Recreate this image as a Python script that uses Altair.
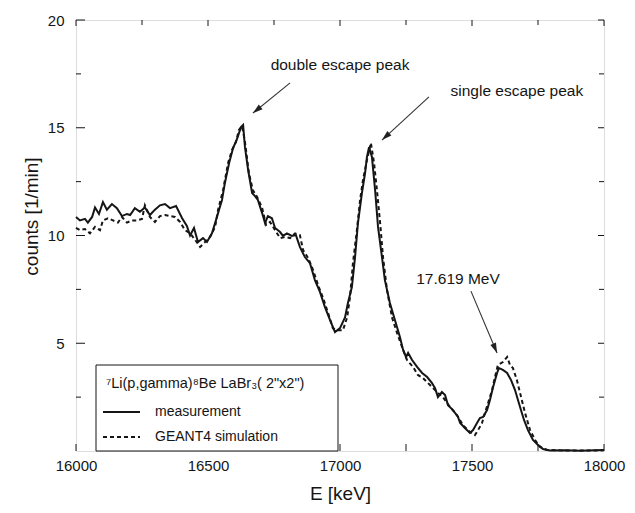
import altair as alt
import pandas as pd

# ---- data: (E [keV], counts [1/min]) ----
measurement = [
    (16000, 10.86), (16015, 10.70), (16034, 10.77), (16045, 10.60), (16061, 10.86),
    (16072, 11.30), (16087, 11.00), (16102, 11.55), (16117, 11.20), (16136, 11.46),
    (16155, 11.27), (16174, 10.90), (16193, 11.00), (16205, 10.95), (16223, 11.27),
    (16242, 11.10), (16261, 11.30), (16280, 10.95), (16299, 11.20), (16318, 11.40),
    (16337, 11.46), (16356, 11.27), (16379, 11.37), (16402, 10.80), (16420, 10.44),
    (16432, 10.00), (16447, 10.35), (16462, 9.70), (16481, 9.88), (16496, 9.70),
    (16515, 10.10), (16530, 10.70), (16542, 11.20), (16553, 11.65), (16564, 12.44),
    (16580, 13.36), (16595, 14.06), (16610, 14.48), (16625, 15.03), (16633, 15.13),
    (16640, 14.10), (16652, 13.04), (16667, 11.97), (16678, 11.83), (16689, 11.65),
    (16705, 11.04), (16716, 10.58), (16727, 10.90), (16742, 10.80), (16754, 10.35),
    (16773, 10.16), (16784, 9.98), (16799, 10.10), (16818, 9.98), (16833, 10.02),
    (16848, 9.47), (16867, 9.00), (16886, 8.72), (16905, 7.93), (16924, 7.38),
    (16943, 6.68), (16962, 6.08), (16981, 5.52), (17000, 5.70), (17019, 6.20),
    (17030, 6.87), (17045, 7.61), (17057, 9.00), (17068, 10.58), (17083, 11.97),
    (17095, 12.90), (17102, 13.64), (17110, 14.10), (17121, 13.64), (17133, 12.10),
    (17144, 10.40), (17159, 9.00), (17170, 7.93), (17189, 6.87), (17208, 6.08),
    (17227, 5.29), (17239, 4.69), (17250, 4.36), (17258, 4.55), (17273, 4.22),
    (17292, 3.90), (17311, 3.62), (17330, 3.43), (17348, 3.16), (17360, 2.92),
    (17371, 2.50), (17386, 2.74), (17398, 2.60), (17409, 2.13), (17428, 1.90),
    (17447, 1.58), (17455, 1.30), (17473, 1.07), (17492, 0.84), (17504, 0.97),
    (17519, 1.30), (17530, 1.53), (17542, 1.58), (17557, 1.90), (17568, 2.37),
    (17580, 2.97), (17595, 3.62), (17602, 3.85), (17617, 3.76), (17633, 3.62),
    (17648, 3.29), (17663, 2.83), (17682, 2.04), (17697, 1.44), (17712, 0.97),
    (17731, 0.51), (17750, 0.28), (17769, 0.09), (17795, 0.02), (17852, 0.03),
    (17909, 0.01), (17966, 0.04), (18000, 0.05),
]

simulation = [
    (16000, 10.35), (16015, 10.25), (16034, 10.30), (16053, 10.10), (16072, 10.40),
    (16091, 10.25), (16102, 10.70), (16121, 10.80), (16140, 10.70), (16159, 10.60),
    (16174, 10.86), (16193, 10.60), (16212, 10.70), (16231, 10.70), (16250, 10.77),
    (16261, 11.40), (16280, 10.86), (16299, 10.63), (16318, 10.90), (16337, 10.95),
    (16356, 10.90), (16375, 10.86), (16394, 10.63), (16413, 10.25), (16432, 10.10),
    (16451, 9.80), (16470, 9.47), (16489, 9.70), (16508, 9.93), (16527, 10.40),
    (16538, 11.18), (16557, 12.10), (16576, 13.36), (16591, 13.97), (16606, 14.34),
    (16617, 14.90), (16629, 15.08), (16640, 14.34), (16655, 12.90), (16670, 12.10),
    (16686, 11.79), (16705, 11.28), (16720, 10.49), (16735, 10.63), (16754, 10.25),
    (16773, 9.88), (16792, 9.93), (16811, 9.88), (16830, 10.10), (16848, 10.02),
    (16860, 9.33), (16879, 8.96), (16898, 8.40), (16917, 7.70), (16936, 7.10),
    (16955, 6.40), (16973, 5.70), (16992, 5.60), (17011, 5.60), (17027, 6.20),
    (17038, 7.15), (17049, 8.72), (17064, 10.25), (17076, 11.65), (17087, 12.57),
    (17102, 13.50), (17117, 14.30), (17129, 13.36), (17140, 12.10), (17152, 10.58),
    (17163, 9.00), (17178, 7.47), (17197, 6.20), (17216, 5.48), (17235, 4.83),
    (17254, 4.22), (17277, 3.90), (17295, 3.53), (17314, 3.39), (17341, 3.06),
    (17367, 2.74), (17390, 2.50), (17417, 2.04), (17443, 1.67), (17466, 1.20),
    (17492, 0.88), (17511, 0.74), (17523, 0.97), (17538, 1.30), (17549, 1.76),
    (17561, 2.23), (17576, 2.83), (17587, 3.43), (17598, 3.99), (17617, 4.13),
    (17633, 4.36), (17644, 3.99), (17655, 3.85), (17670, 3.29), (17686, 2.50),
    (17701, 1.76), (17720, 0.97), (17739, 0.51), (17758, 0.19), (17784, 0.05),
    (17833, 0.03), (17909, 0.02), (18000, 0.03),
]

x_ticks_major = [16000, 16500, 17000, 17500, 18000]
x_ticks_minor = [16250, 16750, 17250, 17750]
y_ticks_major = [5, 10, 15, 20]
y_ticks_minor = [2.5, 7.5, 12.5, 17.5]

annot_text = ["double escape peak", "single escape peak", "17.619 MeV"]
annot_E = [17000, 17670, 17447]
annot_v = [17.9, 16.7, 7.98]
arrow_E_from = [16811, 17337, 17496]
arrow_v_from = [17.08, 16.43, 7.42]
arrow_E_to = [16670, 17159, 17595]
arrow_v_to = [15.68, 14.43, 4.55]
arrow_angle = [231, 227.5, 157]

legend_title = "\u2077Li(p,gamma)\u2078Be LaBr\u2083( 2\"x2\")"
legend_labels = ["measurement", "GEANT4 simulation"]

# ---- layout ----
W, H = 528, 431
FONT = "Liberation Sans"
INK = "#151515"

df_meas = pd.DataFrame(measurement, columns=["E", "v"])
df_sim = pd.DataFrame(simulation, columns=["E", "v"])
df_ann = pd.DataFrame({"t": annot_text, "E": annot_E, "v": annot_v})
df_arr = pd.DataFrame({"E1": arrow_E_from, "v1": arrow_v_from,
                       "E2": arrow_E_to, "v2": arrow_v_to, "ang": arrow_angle})

xs = alt.Scale(domain=[16000, 18000], nice=False, zero=False)
ys = alt.Scale(domain=[0, 20], nice=False, zero=False)

xaxis = alt.Axis(values=x_ticks_major, format="d", title="E [keV]", grid=False,
                 domain=False, ticks=True, tickSize=0, labelPadding=7,
                 labelFlush=False, labelOverlap=False, labelFontSize=15,
                 labelColor=INK, titleColor=INK, titleFontSize=19,
                 titleFontWeight="normal", titleBaseline="alphabetic", titleY=48)
yaxis = alt.Axis(values=y_ticks_major, title="counts [1/min]", grid=False,
                 domain=False, ticks=True, tickSize=0, labelPadding=12,
                 labelFontSize=15, labelColor=INK, titleColor=INK,
                 titleFontSize=19, titleFontWeight="normal", titleAngle=270,
                 titleBaseline="bottom", titleAlign="center", titleX=-35,
                 titleY=196)


def X(field):
    return alt.X(field, type="quantitative", scale=xs, axis=xaxis)


def Y(field):
    return alt.Y(field, type="quantitative", scale=ys, axis=yaxis)


meas_line = alt.Chart(df_meas).mark_line(color=INK, strokeWidth=2).encode(
    x=X("E"), y=Y("v"))
sim_line = alt.Chart(df_sim).mark_line(color=INK, strokeWidth=2,
                                       strokeDash=[4, 3]).encode(x=X("E"), y=Y("v"))


def xticks(vals, top, length):
    d = pd.DataFrame({"E": vals})
    y0 = 0 if top else H
    y1 = length if top else H - length
    return alt.Chart(d).mark_rule(color=INK, strokeWidth=1).encode(
        x=X("E"), y=alt.value(y0), y2=alt.value(y1))


def yticks(vals, right, length):
    d = pd.DataFrame({"v": vals})
    x0 = W if right else 0
    x1 = W - length if right else length
    return alt.Chart(d).mark_rule(color=INK, strokeWidth=1).encode(
        y=Y("v"), x=alt.value(x0), x2=alt.value(x1))


tick_layers = [
    xticks(x_ticks_major, False, 7), xticks(x_ticks_minor, False, 7),
    xticks(x_ticks_major, True, 6), xticks(x_ticks_minor, True, 5),
    yticks(y_ticks_major, False, 9), yticks(y_ticks_minor, False, 5),
    yticks(y_ticks_major, True, 6), yticks(y_ticks_minor, True, 5),
]

one = pd.DataFrame({"a": [0]})
legend_box = alt.Chart(one).mark_rect(fill="white", stroke=INK, strokeWidth=1).encode(
    x=alt.value(20), x2=alt.value(262), y=alt.value(345), y2=alt.value(H))
legend_t = alt.Chart(one).mark_text(align="left", baseline="middle", font=FONT,
                                    fontSize=14.5, color=INK, text=legend_title).encode(
    x=alt.value(30), y=alt.value(364))
leg_solid = alt.Chart(one).mark_rule(color=INK, strokeWidth=2).encode(
    x=alt.value(27), x2=alt.value(64), y=alt.value(392))
leg_dash = alt.Chart(one).mark_rule(color=INK, strokeWidth=2, strokeDash=[4, 3]).encode(
    x=alt.value(27), x2=alt.value(64), y=alt.value(417))
leg_l1 = alt.Chart(one).mark_text(align="left", baseline="middle", font=FONT,
                                  fontSize=14, color=INK, text=legend_labels[0]).encode(
    x=alt.value(79), y=alt.value(392))
leg_l2 = alt.Chart(one).mark_text(align="left", baseline="middle", font=FONT,
                                  fontSize=14, color=INK, text=legend_labels[1]).encode(
    x=alt.value(79), y=alt.value(417))

ann_text = alt.Chart(df_ann).mark_text(align="center", baseline="middle", font=FONT,
                                       fontSize=15.5, color=INK).encode(
    x=X("E"), y=Y("v"), text="t:N")
arr_line = alt.Chart(df_arr).mark_rule(color="#333", strokeWidth=1.1).encode(
    x=X("E1"), y=Y("v1"), x2="E2", y2="v2")
arr_head = alt.Chart(df_arr).mark_point(
    shape="M0,0L-0.6,2L0.6,2Z", filled=True, color="#222", size=100, opacity=1,
    strokeWidth=0).encode(x=X("E2"), y=Y("v2"), angle=alt.Angle("ang:Q", scale=None))

chart = alt.layer(
    meas_line, sim_line, *tick_layers, legend_box, legend_t, leg_solid, leg_dash,
    leg_l1, leg_l2, arr_line, arr_head, ann_text,
).properties(
    width=W, height=H,
    autosize=alt.AutoSizeParams(type="none"),
    padding={"left": 76, "top": 20, "right": 31, "bottom": 62},
    background="white",
).configure_view(stroke=INK, strokeWidth=1.2).configure(
    font=FONT
).configure_axis(labelFont=FONT, titleFont=FONT)

chart.save("out.html", embed_options={"renderer": "svg", "actions": False})
